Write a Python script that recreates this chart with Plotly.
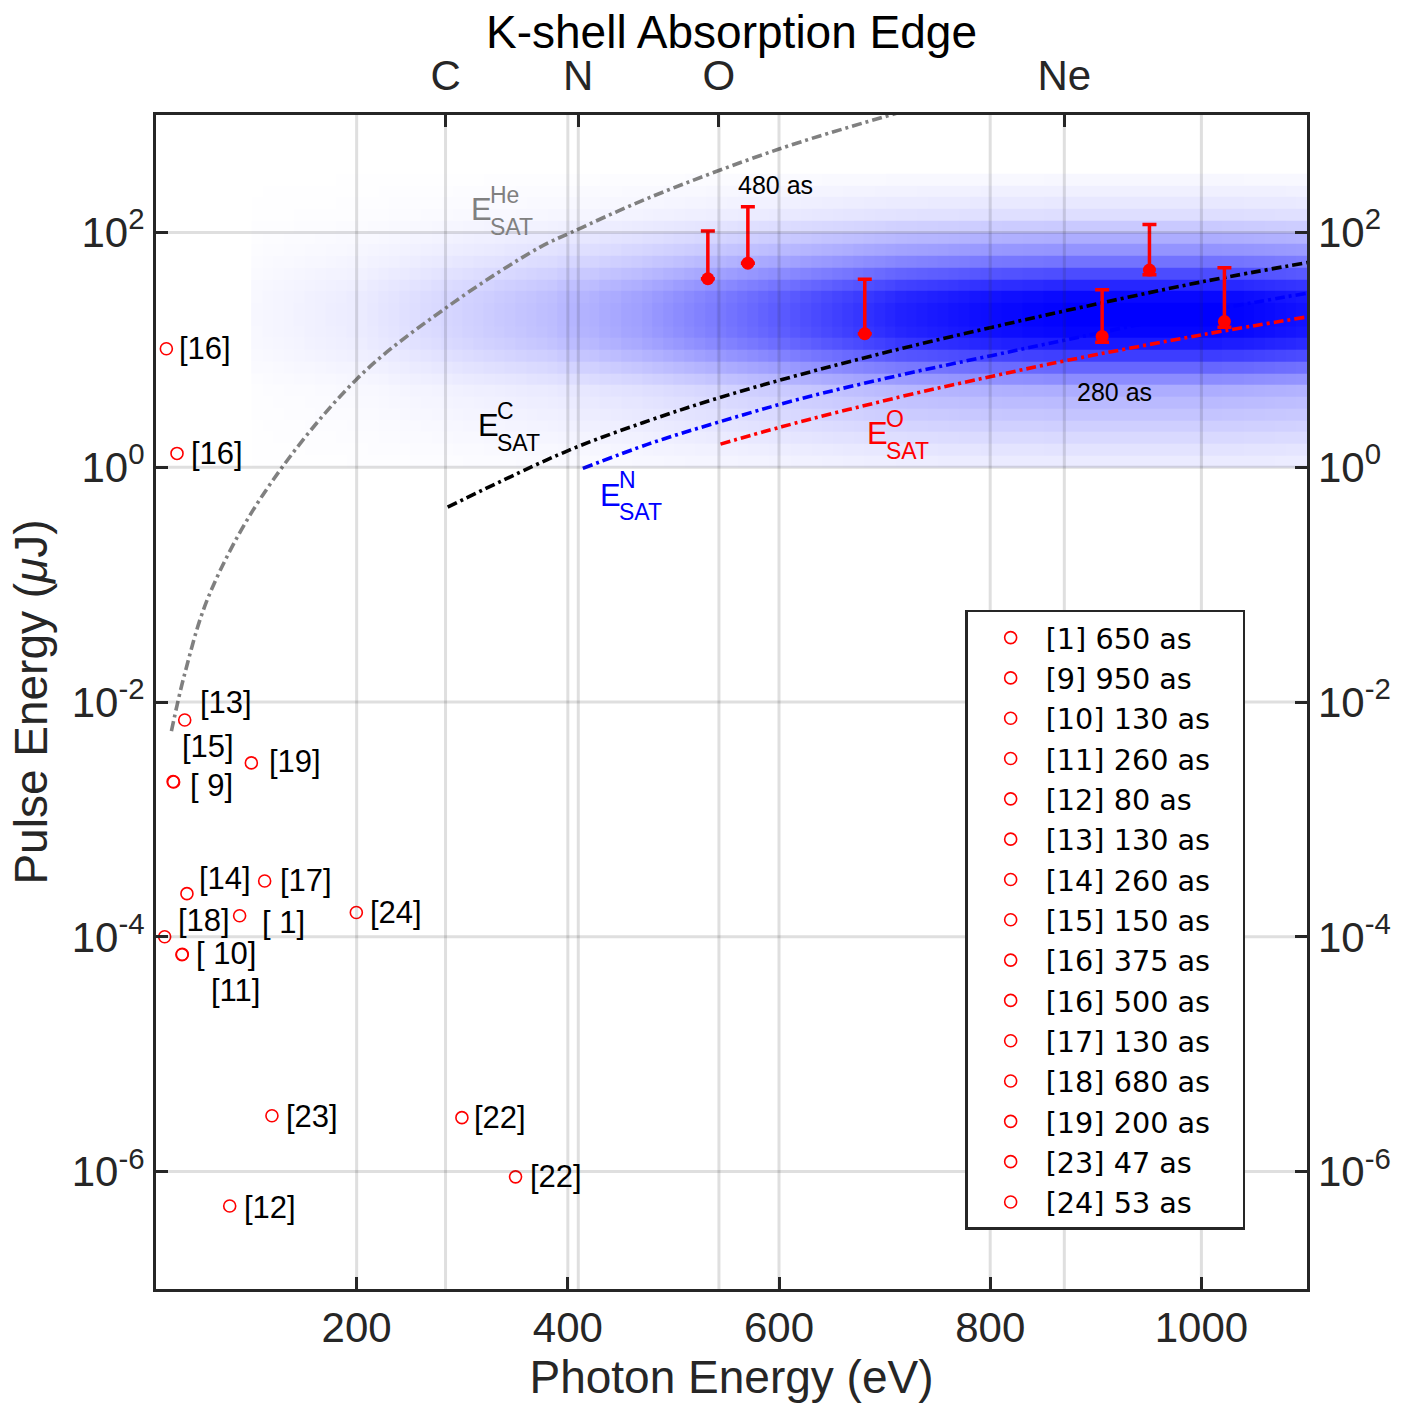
import numpy as np
import plotly.graph_objects as go

# ---------------- data ----------------
# literature points (legend entries)
ref_names = ["[1] 650 as", "[9] 950 as", "[10] 130 as", "[11] 260 as", "[12] 80 as",
             "[13] 130 as", "[14] 260 as", "[15] 150 as", "[16] 375 as", "[16] 500 as",
             "[17] 130 as", "[18] 680 as", "[19] 200 as", "[23] 47 as", "[24] 53 as"]
ref_x = [89.2, 26.7, 34.6, 34.9, 79.8, 37.2, 39.3, 26.2, 19.8, 29.9, 112.9, 18.2, 100.3, 119.8, 199.7]
ref_y = [1.51e-4, 2.08e-3, 7.04e-5, 7.1e-5, 5.09e-7, 7.02e-3, 2.33e-4, 2.1e-3, 10.2, 1.31,
         2.99e-4, 1.0e-4, 3.03e-3, 2.99e-6, 1.61e-4]
ref_tags = ["[ 1]", "[ 9]", "[ 10]", "[11]", "[12]", "[13]", "[14]", "[15]", "[16]", "[16]",
            "[17]", "[18]", "[19]", "[23]", "[24]"]

# points without legend entry
extra_x = [299.7, 350.5]
extra_y = [2.88e-6, 9.02e-7]
extra_tags = ["[22]", "[22]"]

# this work: measured points with upper error bars
meas_x = [532.6, 570.5, 681.2, 906.0, 950.8, 1021.8]
meas_y = [40.3, 54.7, 13.7, 13.0, 47.8, 17.4]
meas_top = [103.0, 165.0, 39.8, 32.4, 117.0, 50.0]
meas_bottom = [40.3, 54.7, 13.7, 11.6, 43.5, 15.6]

# saturation energy curves
he_x = [24.6, 37.2, 60.0, 111.0, 200.0, 285.9, 373.3, 403.3, 477.4, 600.0, 711.2]
he_y = [5.64e-3, 1.74e-2, 8.0e-2, 0.577, 5.62, 23.2, 74.6, 100.0, 198.0, 513.0, 1033.0]
c_x = [286.2, 399.8, 477.4, 543.7, 619.4, 714.1, 802.1, 873.1, 1001.9, 1101.3]
c_y = [0.457, 1.379, 2.504, 3.917, 6.126, 10.16, 15.58, 21.69, 38.12, 55.5]
n_x = [414.2, 477.4, 543.7, 619.4, 714.1, 802.1, 873.1, 1001.9, 1101.3]
n_y = [0.976, 1.587, 2.435, 3.808, 6.073, 8.96, 12.23, 21.09, 30.5]
o_x = [544.6, 602.4, 714.1, 802.1, 873.1, 1001.9, 1101.3]
o_y = [1.572, 2.209, 3.960, 5.957, 8.13, 13.49, 19.14]

# simulated distribution (heat map): column weights (10 eV bins from 100 eV)
heat_x0, heat_dx = 100, 10
heat_col_w = [0.03, 0.035, 0.04, 0.045, 0.05, 0.055, 0.06, 0.065, 0.07, 0.075,
              0.08, 0.09, 0.10, 0.11, 0.12, 0.13, 0.14, 0.15, 0.16, 0.17,
              0.18, 0.19, 0.20, 0.21, 0.22, 0.23, 0.24, 0.25, 0.26, 0.28,
              0.29, 0.30, 0.31, 0.33, 0.34, 0.36, 0.37, 0.39, 0.41, 0.43,
              0.45, 0.47, 0.49, 0.51, 0.53, 0.55, 0.57, 0.59, 0.61, 0.63,
              0.65, 0.67, 0.69, 0.71, 0.73, 0.75, 0.77, 0.79, 0.81, 0.83,
              0.85, 0.87, 0.88, 0.89, 0.90, 0.91, 0.92, 0.93, 0.94, 0.95,
              0.96, 0.97, 0.97, 0.98, 0.98, 0.99, 0.99, 1.0, 1.0, 1.0,
              1.0, 1.0, 1.0, 1.0, 1.0, 1.0, 1.0, 1.0, 1.0, 1.0,
              1.0, 1.0, 0.99, 0.99, 0.98, 0.97, 0.96, 0.95, 0.94, 0.93]
# row weights (0.1-decade bins from 10^0)
heat_row_w = [0.08, 0.11, 0.15, 0.19, 0.23, 0.27, 0.32, 0.45, 0.60, 0.76,
              0.90, 0.98, 1.0, 1.0, 0.97, 0.85, 0.70, 0.55, 0.42, 0.32,
              0.21, 0.13, 0.09, 0.06, 0.03]

edge_vals = [284.2, 409.9, 543.1, 870.2]
edge_text = ["C", "N", "O", "Ne"]
x_ticks = [200, 400, 600, 800, 1000]
y_ticks = [1e-6, 1e-4, 1e-2, 1e0, 1e2]
y_ticktext = ["10<sup>-6</sup>", "10<sup>-4</sup>", "10<sup>-2</sup>", "10<sup>0</sup>", "10<sup>2</sup>"]

# ---------------- figure ----------------
FONT = "Liberation Sans, Arial, sans-serif"
AX = "#262626"
fig = go.Figure()

heat_z = np.outer(heat_row_w, heat_col_w)
heat_xe = heat_x0 + heat_dx * np.arange(len(heat_col_w) + 1)
heat_ye = 10 ** (0.1 * np.arange(len(heat_row_w) + 1))
fig.add_trace(go.Heatmap(
    x=heat_xe, y=heat_ye, z=heat_z, zmin=0, zmax=1, showscale=False, hoverinfo="skip",
    colorscale=[[0, "rgba(0,0,255,0)"], [1, "rgba(0,0,255,1)"]]))

dash = "10px,4px,3px,4px"
for xs, ys, col in [(he_x, he_y, "#808080"), (c_x, c_y, "black"),
                    (n_x, n_y, "blue"), (o_x, o_y, "red")]:
    fig.add_trace(go.Scatter(x=xs, y=ys, mode="lines", line=dict(color=col, width=3.6, dash=dash, shape="spline"),
                             showlegend=False, hoverinfo="skip"))

names_padded = [nm + "\u00a0\u00a0\u00a0" for nm in ref_names]
for nm, x, y in zip(names_padded, ref_x, ref_y):
    fig.add_trace(go.Scatter(x=[x], y=[y], mode="markers", name=nm,
                             marker=dict(symbol="circle-open", color="red", size=12, line=dict(width=1.6, color="red"))))
fig.add_trace(go.Scatter(x=extra_x, y=extra_y, mode="markers", showlegend=False,
                         marker=dict(symbol="circle-open", color="red", size=12, line=dict(width=1.6, color="red"))))

plus = [t - y for t, y in zip(meas_top, meas_y)]
minus = [y - b for b, y in zip(meas_bottom, meas_y)]
fig.add_trace(go.Scatter(x=meas_x, y=meas_y, mode="markers", showlegend=False,
                         marker=dict(symbol="circle", color="red", size=13),
                         error_y=dict(type="data", symmetric=False, array=plus, arrayminus=minus,
                                      color="red", thickness=3.5, width=7)))

# dummy traces to activate the top and right axes
fig.add_trace(go.Scatter(x=edge_vals, y=[None] * 4, xaxis="x2", showlegend=False, hoverinfo="skip"))
fig.add_trace(go.Scatter(x=[None], y=y_ticks, yaxis="y2", showlegend=False, hoverinfo="skip"))

ann = []
tag_off = [(20, 7), (14, 3), (12, -1), (27, 36), (12, 1), (13, -18), (10, -15), (7, -35),
           (11, 0), (12, 0), (13, 0), (11, -16), (16, -1), (12, 1), (12, 0)]
for t, x, y, (dx, dy) in zip(ref_tags, ref_x, ref_y, tag_off):
    ann.append(dict(x=x, y=np.log10(y), text=t, showarrow=False, xanchor="left", yanchor="middle",
                    xshift=dx, yshift=-dy, font=dict(size=31, color="black", family=FONT)))
for t, x, y, dx in zip(extra_tags, extra_x, extra_y, [10, 12]):
    ann.append(dict(x=x, y=np.log10(y), text=t, showarrow=False, xanchor="left", yanchor="middle",
                    xshift=dx, font=dict(size=31, color="black", family=FONT)))

ann.append(dict(x=np.interp(776, [357, 1202], [200, 1000]), y=np.log10(meas_top[1]) + 0.19, text="480 as",
                showarrow=False, font=dict(size=25, color="black", family=FONT)))
ann.append(dict(x=np.interp(1115, [357, 1202], [200, 1000]), y=np.log10(meas_y[3]) - 0.47, text="280 as",
                showarrow=False, font=dict(size=25, color="black", family=FONT)))


def esat(xpx, ypx, sup, col):
    xe = np.interp(xpx, [357, 1202], [200, 1000])
    ye = 2 - (ypx - 235) / 118.375
    ann.append(dict(x=xe, y=ye, text="E", showarrow=False, xanchor="left", yanchor="middle",
                    font=dict(size=31, color=col, family=FONT)))
    ann.append(dict(x=xe, y=ye, text=sup, showarrow=False, xanchor="left", yanchor="middle",
                    xshift=19, yshift=15, font=dict(size=23, color=col, family=FONT)))
    ann.append(dict(x=xe, y=ye, text="SAT", showarrow=False, xanchor="left", yanchor="middle",
                    xshift=19, yshift=-17, font=dict(size=23, color=col, family=FONT)))


esat(469, 212, "He", "#808080")
esat(476, 430, "C", "black")
esat(598, 500, "N", "blue")
esat(865, 438, "O", "red")

shapes = []
grid_col = "rgba(38,38,38,0.15)"
for v in x_ticks + edge_vals:
    shapes.append(dict(type="line", xref="x", yref="paper", x0=v, x1=v, y0=0, y1=1,
                       line=dict(color=grid_col, width=3), layer="above"))
for v in y_ticks:
    shapes.append(dict(type="line", xref="paper", yref="y", x0=0, x1=1, y0=v, y1=v,
                       line=dict(color=grid_col, width=3), layer="above"))

axis_common = dict(ticks="inside", ticklen=12, tickwidth=3, tickcolor=AX, showgrid=False, zeroline=False,
                   tickfont=dict(size=42, color=AX, family=FONT))
fig.update_layout(
    width=1403, height=1404, margin=dict(l=156, r=95, t=115, b=103),
    paper_bgcolor="white", plot_bgcolor="white", font=dict(family=FONT, color=AX),
    title=dict(text="K-shell Absorption Edge", x=0.5, xref="paper", xanchor="center",
               y=1 - 32 / 1404, yref="container", yanchor="middle",
               font=dict(size=46, color="black", family=FONT)),
    xaxis=dict(range=[10, 1100], tickvals=x_ticks, showline=True, linewidth=3, linecolor=AX, mirror=True,
               title=dict(text="Photon Energy (eV)", font=dict(size=46, color=AX, family=FONT), standoff=8),
               **axis_common),
    xaxis2=dict(range=[10, 1100], overlaying="x", side="top", tickvals=edge_vals, ticktext=edge_text,
                showline=False, ticklabelstandoff=16, **axis_common),
    yaxis=dict(type="log", range=[-7, 3], tickvals=y_ticks, ticktext=y_ticktext, showline=True, linewidth=3,
               linecolor=AX, mirror=True,
               title=dict(text="Pulse Energy (<i>μ</i>J)", font=dict(size=46, color=AX, family=FONT), standoff=10),
               **axis_common),
    yaxis2=dict(type="log", range=[-7, 3], overlaying="y", side="right", tickvals=y_ticks, ticktext=y_ticktext,
                showline=False, ticklabelstandoff=10, **axis_common),
    legend=dict(x=0.703, y=0.5784, xanchor="left", yanchor="top", bgcolor="white", bordercolor=AX,
                borderwidth=2.5, font=dict(size=28.7, color="black", family="DejaVu Sans"),
                indentation=8, itemwidth=60, tracegroupgap=0),
    annotations=ann, shapes=shapes, showlegend=True,
)

fig.write_html("out.html")
